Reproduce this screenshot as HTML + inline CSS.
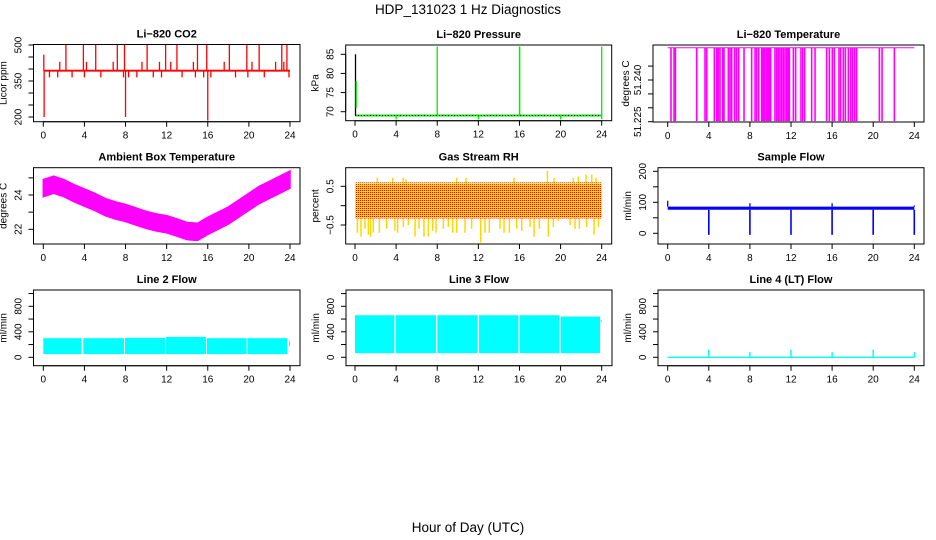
<!DOCTYPE html>
<html><head><meta charset="utf-8">
<style>
html,body{margin:0;padding:0;background:#fff;}
svg{display:block;font-family:"Liberation Sans",Arial,sans-serif;}
</style></head>
<body>
<svg id="chart" width="936" height="540" viewBox="0 0 936 540" xmlns="http://www.w3.org/2000/svg">
<defs>
<pattern id="rhpat" width="2" height="2" patternUnits="userSpaceOnUse">
<rect width="2" height="2" fill="#ffdd00"/><rect width="1" height="1" fill="#ff0000"/>
</pattern>
</defs>
<text x="468" y="14" font-size="13.5" text-anchor="middle">HDP_131023  1 Hz Diagnostics</text>
<text x="468" y="532" font-size="13.5" text-anchor="middle">Hour of Day (UTC)</text>
</svg>
<script>
// ---- data arrays ----
const xTicks = [0, 4, 8, 12, 16, 20, 24];
// CO2
const co2Base = 393;
const co2SpikeHours = [2.2, 3.9, 5.1, 7.2, 7.9, 10.1, 11.9, 13.0, 15.0, 15.9, 18.1, 19.8, 21.0, 23.2, 23.7, 1.6, 4.2, 6.8, 9.6, 11.3, 12.4, 14.6, 17.6, 20.3, 22.6, 23.4, 0.6, 1.4, 2.8, 4.0, 5.6, 7.8, 8.3, 9.1, 10.7, 11.5, 13.5, 14.8, 15.6, 16.3, 18.7, 19.9, 21.5, 23.9, 0.05, 0.08, 8.0, 16.0];
const co2SpikeValues = [500, 500, 500, 500, 500, 500, 500, 500, 500, 500, 500, 500, 500, 500, 500, 430, 430, 430, 430, 430, 430, 430, 430, 430, 430, 430, 365, 365, 365, 365, 365, 365, 365, 365, 365, 365, 365, 365, 365, 365, 365, 365, 365, 365, 460, 200, 200, 185];
// Pressure
const presBase = 69;
const presSpikeHours = [0.05, 0.12, 8.0, 16.0, 16.02, 24.0, 4.0, 12.0, 20.0];
const presSpikeLow = [69, 71, 69, 69, 69, 68, 68, 68, 68];
const presSpikeHigh = [85, 78, 87, 87, 87, 87, 69, 69, 69];
// Li-820 temperature
const tempHigh = 51.2516;
const tempLow = 51.2252;
const tempDropHours = [0.32, 0.62, 0.75, 2.82, 3.63, 3.8, 4.54, 4.77, 4.93, 5.09, 5.35, 5.48, 5.9, 6.07, 6.23, 6.52, 6.71, 6.91, 7.43, 8.17, 8.5, 8.66, 8.86, 9.15, 9.25, 9.37, 9.47, 9.63, 9.76, 9.89, 10.02, 10.44, 10.6, 10.77, 10.93, 11.09, 11.26, 11.42, 11.58, 11.74, 11.84, 12.23, 12.45, 12.97, 13.14, 13.33, 14.01, 14.34, 15.47, 15.73, 16.02, 16.22, 16.67, 16.83, 17.09, 17.29, 17.58, 17.81, 18.0, 18.2, 18.39, 20.6, 20.86, 22.06];
// Ambient box temperature (hourly centre of band)
const ambHours = [0,1,2,3,4,5,6,7,8,9,10,11,12,13,14,15,16,17,18,19,20,21,22,23,24];
const ambCenter = [24.4,24.6,24.4,24.1,23.85,23.6,23.3,23.1,22.95,22.75,22.55,22.4,22.3,22.1,21.9,21.85,22.2,22.5,22.8,23.2,23.6,24.0,24.3,24.6,24.9];
const ambHalf = 0.5;
// Gas stream RH
const rhBandLow = -0.33, rhBandHigh = 0.55;
const rhDownHours = [0.23,0.58,0.97,1.3,1.52,1.78,2.37,3.08,3.89,4.15,4.7,5.19,5.84,6.23,6.71,7.14,7.56,7.88,8.6,9.08,9.5,9.89,10.7,11.35,12.23,12.65,13.07,14.11,14.5,15.02,15.73,16.22,17.03,17.42,17.94,18.81,19.3,19.79,20.92,21.41,21.83,22.54,23.26,23.68];
const rhDownValues = [-0.7,-0.8,-0.6,-0.75,-0.8,-0.7,-0.7,-0.6,-0.65,-0.7,-0.55,-0.5,-0.8,-0.6,-0.8,-0.8,-0.65,-0.7,-0.6,-0.55,-0.7,-0.7,-0.7,-0.6,-0.95,-0.7,-0.7,-0.6,-0.7,-0.7,-0.6,-0.65,-0.55,-0.8,-0.6,-0.8,-0.55,-0.4,-0.5,-0.6,-0.6,-0.55,-0.75,-0.55];
const rhUpHours = [2.17,3.67,4.7,4.96,9.89,10.8,15.47,18.72,19.36,21.25,21.73,22.48,23.03,23.45];
const rhUpValues = [0.72,0.72,0.72,0.68,0.72,0.72,0.72,0.9,0.72,0.72,0.75,0.8,0.8,0.72];
// Sample flow
const sfLow = 76, sfHigh = 86;
const sfDropHours = [4, 8, 12, 16, 20, 24];
const sfDropValues = [-5, -5, -5, -5, -5, -5];
const sfUpHours = [0.0, 8.0, 16.0, 24.0];
const sfUpValues = [105, 97, 97, 90];
// Line 2 flow segments
const l2Start = [0.0, 3.89, 7.95, 11.94, 15.92, 19.9, 23.9];
const l2End = [3.73, 7.85, 11.84, 15.83, 19.78, 23.74, 24.0];
const l2Low = [50, 50, 50, 50, 50, 50, 180];
const l2High = [300, 300, 305, 320, 300, 300, 260];
// Line 3 flow segments
const l3Start = [0.0, 3.99, 8.01, 12.07, 16.05, 20.01, 23.9];
const l3End = [3.83, 7.88, 11.94, 15.89, 19.88, 23.84, 24.0];
const l3Low = [65, 65, 65, 65, 65, 65, 550];
const l3High = [660, 660, 660, 660, 660, 640, 590];
// Line 4 flow
const l4SpikeHours = [4, 8, 12, 16, 20, 24];
const l4SpikeValues = [120, 80, 120, 80, 120, 80];

// ---- drawing ----
const svg = document.getElementById('chart');
const NS = 'http://www.w3.org/2000/svg';
function el(tag, attrs, parent) {
  const e = document.createElementNS(NS, tag);
  for (const k in attrs) e.setAttribute(k, attrs[k]);
  (parent || svg).appendChild(e);
  return e;
}
function makePanel(p) {
  const g = el('g', {});
  
  
  const [L, T, R, B] = p.box;
  p.sx = h => p.x0 + (p.x24 - p.x0) * h / 24;
  p.sy = v => p.pA + (v - p.vA) * (p.pB - p.pA) / (p.vB - p.vA);
  p.g = g;
  const t = el('text', {x: (L + R) / 2, y: T - 7, 'font-size': 11, 'font-weight': 'bold', 'text-anchor': 'middle'}, g);
  t.textContent = p.title;
  
  
  const frame = el('rect', {x: L, y: T, width: R - L, height: B - T, fill: 'none', stroke: '#000', 'stroke-width': 1}, g);
  
  
  const xa = el('g', {}, g);
  
  
  el('line', {x1: p.sx(0), x2: p.sx(24), y1: B, y2: B, stroke: '#000'}, xa);
  xTicks.forEach(h => {
    el('line', {x1: p.sx(h), x2: p.sx(h), y1: B, y2: B + 5, stroke: '#000'}, xa);
    const tl = el('text', {x: p.sx(h), y: B + 17, 'font-size': 10, 'text-anchor': 'middle'}, xa);
    tl.textContent = h;
    
    
  });
  const ya = el('g', {}, g);
  
  
  const yt = p.yTicks;
  el('line', {x1: L, x2: L, y1: p.sy(yt[0]), y2: p.sy(yt[yt.length - 1]), stroke: '#000'}, ya);
  yt.forEach(v => el('line', {x1: L, x2: L - 5, y1: p.sy(v), y2: p.sy(v), stroke: '#000'}, ya));
  p.yLabels.forEach((lab, i) => {
    const y = p.sy(p.yLabelVals[i]);
    const tl = el('text', {x: 0, y: 0, 'font-size': 10, 'text-anchor': 'middle', transform: `translate(${L - 12},${y}) rotate(-90)`}, ya);
    tl.textContent = lab;
    
    
  });
  const yl = el('text', {x: 0, y: 0, 'font-size': 10, 'text-anchor': 'middle', transform: `translate(${L - p.ylabOff},${(T + B) / 2}) rotate(-90)`}, g);
  yl.textContent = p.ylab;
  
  
  return p;
}
function vseg(p, h, a, b, color, w, name) {
  const l = el('line', {x1: p.sx(h), x2: p.sx(h), y1: p.sy(a), y2: p.sy(b), stroke: color, 'stroke-width': w || 1}, p.g);
  
  
  return l;
}
function band(p, h0, h1, lo, hi, fill, name) {
  const r = el('rect', {x: p.sx(h0), y: p.sy(hi), width: p.sx(h1) - p.sx(h0), height: p.sy(lo) - p.sy(hi), fill: fill}, p.g);
  
  
  return r;
}

// Panel 1: CO2
const p1 = makePanel({name: 'panel-co2', title: 'Li−820 CO2', ylab: 'Licor ppm', ylabOff: 27, box: [33.5, 44.5, 300, 121.7], x0: 43.3, x24: 290, vA: 200, pA: 117, vB: 500, pB: 45, yTicks: [200, 250, 300, 350, 400, 450, 500], yLabels: ['200', '350', '500'], yLabelVals: [200, 350, 500]});
co2SpikeHours.forEach((h, i) => vseg(p1, h, co2Base, co2SpikeValues[i], '#ff0000', 1.3, 'co2-spike'));
band(p1, 0.05, 24, co2Base - 4, co2Base + 4, '#ff0000', 'co2-baseline');

// Panel 2: Pressure
const p2 = makePanel({name: 'panel-pressure', title: 'Li−820 Pressure', ylab: 'kPa', ylabOff: 27, box: [345.7, 45, 611.7, 120.7], x0: 355, x24: 601.7, vA: 70, pA: 111.7, vB: 85, pB: 54.3, yTicks: [70, 75, 80, 85], yLabels: ['70', '75', '80', '85'], yLabelVals: [70, 75, 80, 85]});
{
  const bl = el('line', {x1: p2.sx(0), x2: p2.sx(24), y1: p2.sy(presBase), y2: p2.sy(presBase), stroke: '#00ee00', 'stroke-width': 2}, p2.g);
  
  
  const bd = el('line', {x1: p2.sx(0), x2: p2.sx(24), y1: p2.sy(presBase), y2: p2.sy(presBase), stroke: '#000', 'stroke-width': 1, 'stroke-dasharray': '1 2'}, p2.g);
  
  
}
presSpikeHours.forEach((h, i) => {
  vseg(p2, h, presSpikeLow[i], presSpikeHigh[i], i === 0 ? '#000' : '#00ee00', 1.3, 'pressure-spike');
});

// Panel 3: Li-820 temperature
const p3 = makePanel({name: 'panel-li820-temperature', title: 'Li−820 Temperature', ylab: 'degrees C', ylabOff: 24, box: [653, 45, 924, 122], x0: 667.7, x24: 914.3, vA: 51.225, pA: 121.7, vB: 51.240, pB: 80, yTicks: [51.225, 51.230, 51.235, 51.240, 51.245], yLabels: ['51.225', '51.240'], yLabelVals: [51.225, 51.240]});
{
  const hl = el('line', {x1: p3.sx(0), x2: p3.sx(24), y1: p3.sy(tempHigh), y2: p3.sy(tempHigh), stroke: '#ff00ff', 'stroke-width': 1}, p3.g);
  
  
}
tempDropHours.forEach(h => vseg(p3, h, tempHigh, tempLow, '#ff00ff', 1.6, 'temperature-drop'));

// Panel 4: Ambient box temperature
const p4 = makePanel({name: 'panel-ambient-temperature', title: 'Ambient Box Temperature', ylab: 'degrees C', ylabOff: 27, box: [33.5, 167.7, 300, 244], x0: 43.3, x24: 290, vA: 24, pA: 195, vB: 22, pB: 229.3, yTicks: [22, 23, 24, 25], yLabels: ['22', '24'], yLabelVals: [22, 24]});
{
  let pts = ambHours.map((h, i) => `${p4.sx(h)},${p4.sy(ambCenter[i] + ambHalf)}`);
  pts = pts.concat(ambHours.slice().reverse().map((h, j) => `${p4.sx(h)},${p4.sy(ambCenter[ambHours.length - 1 - j] - ambHalf)}`));
  const poly = el('polygon', {points: pts.join(' '), fill: '#ff00ff', stroke: '#ff00ff', 'stroke-width': 1.5}, p4.g);
  
  
}

// Panel 5: Gas stream RH
const p5 = makePanel({name: 'panel-gas-rh', title: 'Gas Stream RH', ylab: 'percent', ylabOff: 27, box: [345.7, 167.7, 611.7, 244], x0: 355, x24: 601.7, vA: 0.5, pA: 186.3, vB: -0.5, pB: 225, yTicks: [-0.5, 0, 0.5], yLabels: ['−0.5', '0.5'], yLabelVals: [-0.5, 0.5]});
rhDownHours.forEach((h, i) => vseg(p5, h, 0, rhDownValues[i], '#ffd700', 1.5, 'rh-down-spike'));
rhUpHours.forEach((h, i) => vseg(p5, h, 0, rhUpValues[i], '#ffd700', 1.5, 'rh-up-spike'));
band(p5, 0, 24, rhBandLow, rhBandHigh, 'url(#rhpat)', 'rh-band');
band(p5, 0, 24, rhBandHigh, rhBandHigh + 0.06, 'url(#rhpat)', 'rh-band-fringe').setAttribute('opacity', '0.6');

// Panel 6: Sample flow
const p6 = makePanel({name: 'panel-sample-flow', title: 'Sample Flow', ylab: 'ml/min', ylabOff: 27, box: [658, 167.7, 924, 244], x0: 667.7, x24: 914.3, vA: 0, pA: 233.3, vB: 100, pB: 202.3, yTicks: [0, 50, 100, 150, 200], yLabels: ['0', '100', '200'], yLabelVals: [0, 100, 200]});
band(p6, 0, 24, sfLow, sfHigh, '#0000ff', 'sample-flow-band');
sfDropHours.forEach((h, i) => vseg(p6, h, sfLow, sfDropValues[i], '#0000ff', 1.6, 'sample-flow-drop'));
sfUpHours.forEach((h, i) => vseg(p6, h, sfHigh, sfUpValues[i], '#0000ff', 1.3, 'sample-flow-spike'));

// Row 3 common y
const flowTicks = [0, 200, 400, 600, 800, 1000];
// Panel 7: Line 2 flow
const p7 = makePanel({name: 'panel-line2-flow', title: 'Line 2 Flow', ylab: 'ml/min', ylabOff: 27, box: [33.5, 290, 300, 365.7], x0: 43.3, x24: 290, vA: 0, pA: 357.3, vB: 800, pB: 306.3, yTicks: flowTicks, yLabels: ['0', '400', '800'], yLabelVals: [0, 400, 800]});
l2Start.forEach((s, i) => band(p7, s, l2End[i], l2Low[i], l2High[i], '#00ffff', 'line2-flow-segment'));
// Panel 8: Line 3 flow
const p8 = makePanel({name: 'panel-line3-flow', title: 'Line 3 Flow', ylab: 'ml/min', ylabOff: 27, box: [346, 290, 612, 365.7], x0: 355, x24: 601.7, vA: 0, pA: 357.3, vB: 800, pB: 306.3, yTicks: flowTicks, yLabels: ['0', '400', '800'], yLabelVals: [0, 400, 800]});
l3Start.forEach((s, i) => band(p8, s, l3End[i], l3Low[i], l3High[i], '#00ffff', 'line3-flow-segment'));
// Panel 9: Line 4 flow
const p9 = makePanel({name: 'panel-line4-flow', title: 'Line 4 (LT) Flow', ylab: 'ml/min', ylabOff: 27, box: [658, 290, 924, 365.7], x0: 667.7, x24: 914.3, vA: 0, pA: 357.3, vB: 800, pB: 306.3, yTicks: flowTicks, yLabels: ['0', '400', '800'], yLabelVals: [0, 400, 800]});
{
  const bl = el('line', {x1: p9.sx(0), x2: p9.sx(24), y1: p9.sy(0), y2: p9.sy(0), stroke: '#00ffff', 'stroke-width': 1.3}, p9.g);
  
  
}
l4SpikeHours.forEach((h, i) => vseg(p9, h, 0, l4SpikeValues[i], '#00ffff', 1.5, 'line4-flow-spike'));
</script>
</body></html>
